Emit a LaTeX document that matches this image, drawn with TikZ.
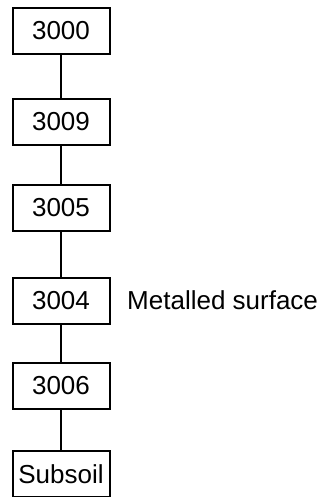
\documentclass[tikz,border=0pt]{standalone}
\usepackage{fontspec}
\setmainfont{Liberation Sans}
\begin{document}
\begin{tikzpicture}[x=1pt,y=1pt,
  ctx/.style={draw=black,line width=2pt,minimum width=97pt,minimum height=46pt,inner sep=0pt,font=\fontsize{26}{30}\selectfont},
  lnk/.style={draw=black,line width=2pt},
  lbl/.style={anchor=west,inner sep=0pt,font=\fontsize{26}{30}\selectfont}]
\useasboundingbox (0,0) rectangle (327,-497);
\node[ctx] (c3000) at (61,-31) {3000};
\node[ctx] (c3009) at (61,-122) {3009};
\node[ctx] (c3005) at (61,-208) {3005};
\node[ctx] (c3004) at (61,-301) {3004};
\node[ctx] (c3006) at (61,-386) {3006};
\node[ctx] (csub) at (61,-474) {Subsoil};
\node[lbl] (metal) at (127,-300) {Metalled surface};
\draw[lnk] (c3000) -- (c3009);
\draw[lnk] (c3009) -- (c3005);
\draw[lnk] (c3005) -- (c3004);
\draw[lnk] (c3004) -- (c3006);
\draw[lnk] (c3006) -- (csub);
\end{tikzpicture}
\end{document}
